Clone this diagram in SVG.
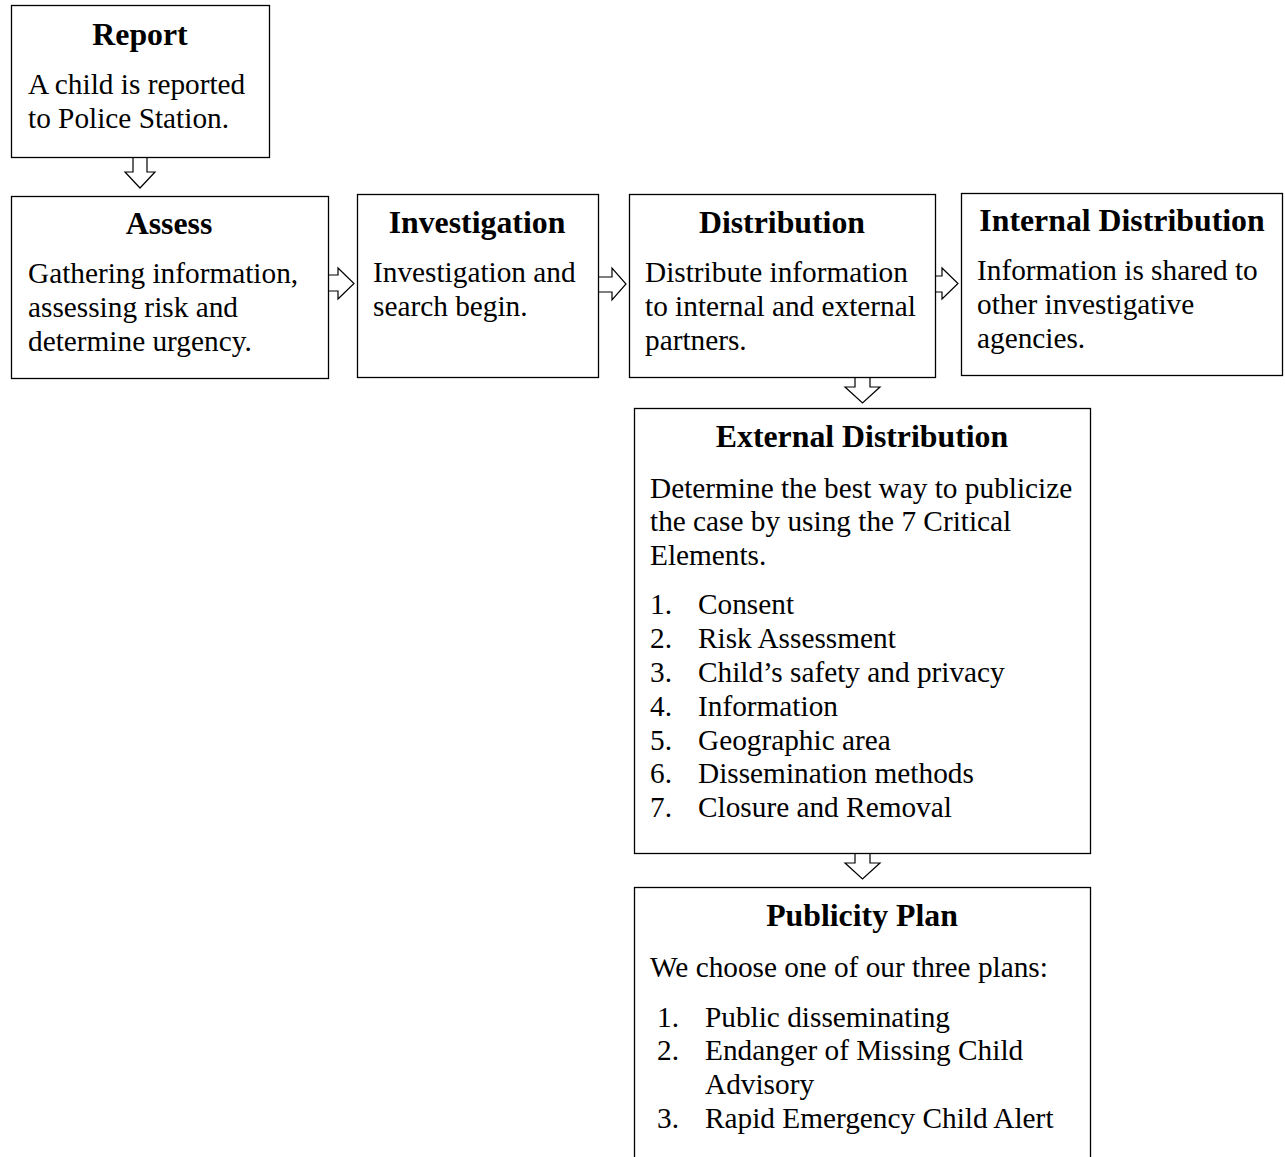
<svg xmlns="http://www.w3.org/2000/svg" width="1285" height="1157" viewBox="0 0 1285 1157">
<style>
.box{fill:#fff;stroke:#000;stroke-width:1.3}
.t{font-family:"Liberation Serif","Times New Roman",serif;font-size:31.8px;font-weight:bold;text-anchor:middle;fill:#000}
.b{font-family:"Liberation Serif","Times New Roman",serif;font-size:29.3px;fill:#000}
.arr{fill:#fff;stroke:#000;stroke-width:1.2;stroke-linejoin:miter}
</style>
<rect width="1285" height="1157" fill="#fff"/>
<g id="connectors">
<polygon class="arr" points="133,157 147,157 147,172 155,172 140,188 125,172 133,172"/>
<polygon class="arr" points="328,275 338,275 338,268 354,283.5 338,299 338,291 328,291"/>
<polygon class="arr" points="598,277 612,277 612,268 626,284 612,300 612,292 598,292"/>
<polygon class="arr" points="935,276 942,276 942,268 958,283.5 942,299 942,292 935,292"/>
<polygon class="arr" points="855,377 870,377 870,387 880,387 862.5,403 845,387 855,387"/>
<polygon class="arr" points="855,853 870,853 870,863 880,863 862.5,879 845,863 855,863"/>
</g>
<g id="report">
<rect class="box" x="11.5" y="5.5" width="258" height="152"/>
<text class="t" x="140" y="45">Report</text>
<text class="b" x="28" y="94">A child is reported</text>
<text class="b" x="28" y="128">to Police Station.</text>
</g>
<g id="assess">
<rect class="box" x="11.5" y="196.5" width="317" height="182"/>
<text class="t" x="169" y="234">Assess</text>
<text class="b" x="28" y="283">Gathering information,</text>
<text class="b" x="28" y="317">assessing risk and</text>
<text class="b" x="28" y="351">determine urgency.</text>
</g>
<g id="investigation">
<rect class="box" x="357.5" y="194.5" width="241" height="183"/>
<text class="t" x="477" y="233">Investigation</text>
<text class="b" x="373" y="282">Investigation and</text>
<text class="b" x="373" y="316">search begin.</text>
</g>
<g id="distribution">
<rect class="box" x="629.5" y="194.5" width="306" height="183"/>
<text class="t" x="782" y="233">Distribution</text>
<text class="b" x="645" y="282">Distribute information</text>
<text class="b" x="645" y="316">to internal and external</text>
<text class="b" x="645" y="350">partners.</text>
</g>
<g id="internal">
<rect class="box" x="961.5" y="193.5" width="321" height="182"/>
<text class="t" x="1122" y="231">Internal Distribution</text>
<text class="b" x="977" y="280">Information is shared to</text>
<text class="b" x="977" y="314">other investigative</text>
<text class="b" x="977" y="348">agencies.</text>
</g>
<g id="external">
<rect class="box" x="634.5" y="408.5" width="456" height="445"/>
<text class="t" x="862" y="447">External Distribution</text>
<text class="b" x="650" y="498">Determine the best way to publicize</text>
<text class="b" x="650" y="531">the case by using the 7 Critical</text>
<text class="b" x="650" y="565">Elements.</text>
<text class="b" x="650" y="614">1.</text><text class="b" x="698" y="614">Consent</text>
<text class="b" x="650" y="648">2.</text><text class="b" x="698" y="648">Risk Assessment</text>
<text class="b" x="650" y="682">3.</text><text class="b" x="698" y="682">Child’s safety and privacy</text>
<text class="b" x="650" y="716">4.</text><text class="b" x="698" y="716">Information</text>
<text class="b" x="650" y="750">5.</text><text class="b" x="698" y="750">Geographic area</text>
<text class="b" x="650" y="783">6.</text><text class="b" x="698" y="783">Dissemination methods</text>
<text class="b" x="650" y="817">7.</text><text class="b" x="698" y="817">Closure and Removal</text>
</g>
<g id="publicity">
<rect class="box" x="634.5" y="887.5" width="456" height="290"/>
<text class="t" x="862" y="926">Publicity Plan</text>
<text class="b" x="650" y="977">We choose one of our three plans:</text>
<text class="b" x="657" y="1027">1.</text><text class="b" x="705" y="1027">Public disseminating</text>
<text class="b" x="657" y="1060">2.</text><text class="b" x="705" y="1060">Endanger of Missing Child</text>
<text class="b" x="705" y="1094">Advisory</text>
<text class="b" x="657" y="1128">3.</text><text class="b" x="705" y="1128">Rapid Emergency Child Alert</text>
</g>
</svg>
